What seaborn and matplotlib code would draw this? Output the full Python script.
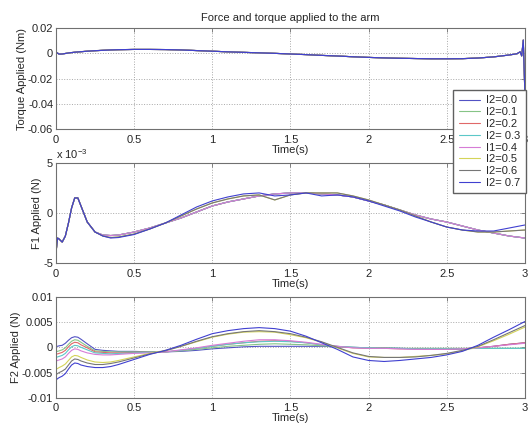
import numpy as np
import pandas as pd
import matplotlib
matplotlib.use('Agg')
import matplotlib.pyplot as plt
from matplotlib.ticker import FormatStrFormatter
import seaborn as sns

# time samples (s)
t_force = [0, 0.01, 0.02, 0.04, 0.06, 0.08, 0.10, 0.12, 0.14, 0.16, 0.2, 0.25, 0.3, 0.35, 0.4,
           0.5, 0.6, 0.7, 0.8, 0.9, 1.0, 1.1, 1.2, 1.3, 1.4, 1.5, 1.6, 1.7, 1.8, 1.9,
           2.0, 2.1, 2.2, 2.3, 2.4, 2.5, 2.6, 2.7, 2.8, 2.9, 3.0]
t_torque = t_force[:-1] + [2.95, 2.97, 2.98, 2.99, 3.0]

labels = ['I2=0.0', 'I2=0.1', 'I2=0.2', 'I2= 0.3', 'I1=0.4', 'I2=0.5', 'I2=0.6', 'I2= 0.7']
colors = ['#5252c4', '#86c486', '#e06868', '#5cc8c8', '#d67cd6', '#d4d458', '#767676', '#4040d0']

# torque (Nm), all runs lie on top of each other
torque = [0.001, 0.0002, -0.0006, -0.0005, -0.0001, 0.0003, 0.0006, 0.0009, 0.0011, 0.0013,
          0.0017, 0.0021, 0.0024, 0.0027, 0.0029, 0.0031, 0.0031, 0.003, 0.0027, 0.0022,
          0.0017, 0.0012, 0.0008, 0.0004, 0.0, -0.0005, -0.001, -0.0016, -0.0021, -0.0027,
          -0.0032, -0.0036, -0.0039, -0.0041, -0.0043, -0.0043, -0.0042, -0.0037, -0.0028, -0.0013,
          -0.0003, 0.0012, -0.002, 0.0105, -0.03]

# F1 (x 1e-3 N), three visibly distinct groups of runs
f1_low = [-4.0, -2.5, -2.6, -2.9, -2.3, -1.0, 0.5, 1.5, 1.5, 0.7, -0.9, -1.9, -2.2, -2.25, -2.2,
          -1.9, -1.5, -1.0, -0.5, 0.1, 0.7, 1.1, 1.4, 1.7, 1.9, 2.0, 2.0, 1.9, 1.8, 1.6,
          1.2, 0.8, 0.3, -0.2, -0.6, -0.9, -1.3, -1.7, -2.0, -2.3, -2.5]
f1_mid = [-4.0, -2.5, -2.6, -2.9, -2.3, -1.0, 0.5, 1.5, 1.5, 0.7, -0.9, -1.9, -2.3, -2.45, -2.4,
          -2.1, -1.6, -1.0, -0.3, 0.4, 1.0, 1.4, 1.7, 1.8, 1.3, 1.8, 2.0, 2.0, 2.0, 1.7,
          1.3, 0.8, 0.3, -0.3, -0.9, -1.4, -1.7, -1.9, -1.9, -1.8, -1.7]
f1_high = [-4.0, -2.5, -2.6, -2.9, -2.3, -1.0, 0.5, 1.5, 1.5, 0.7, -0.9, -1.9, -2.3, -2.5, -2.45,
           -2.15, -1.6, -1.0, -0.2, 0.6, 1.2, 1.6, 1.9, 2.0, 1.7, 1.8, 2.0, 1.7, 1.8, 1.6,
           1.2, 0.7, 0.2, -0.4, -0.9, -1.4, -1.7, -1.8, -1.8, -1.5, -1.2]
f1_runs = [f1_low, f1_low, f1_low, f1_low, f1_low, f1_mid, f1_mid, f1_high]

# F2 (N), one list per run
f2_00 = [0.0002, 0.0002, 0.0003, 0.0004, 0.0008, 0.0014, 0.0019, 0.0021, 0.002, 0.0016,
         0.0007, -0.0004, -0.0006, -0.0007, -0.0008, -0.0008, -0.0009, -0.0009, -0.0008, -0.0006,
         -0.0003, -0.0001, 0.0001, 0.0002, 0.0002, 0.0002, 0.0002, 0.0002, 0.0001, 0.0,
         -0.0001, -0.0001, -0.0002, -0.0003, -0.0003, -0.0004, -0.0003, -0.0001, 0.0002, 0.0006, 0.0009]
f2_01 = [-0.0008, -0.0008, -0.0007, -0.0005, -0.0001, 0.0006, 0.0012, 0.0015, 0.0014, 0.001,
         0.0002, -0.0007, -0.0008, -0.0009, -0.0009, -0.0009, -0.0009, -0.0009, -0.0007, -0.0004,
         -0.0001, 0.0002, 0.0004, 0.0006, 0.0007, 0.0006, 0.0005, 0.0003, 0.0001, 0.0,
         -0.0001, -0.0001, -0.0002, -0.0002, -0.0002, -0.0002, -0.0002, -0.0002, -0.0002, -0.0002, -0.0002]
f2_02 = [-0.0013, -0.0013, -0.0012, -0.001, -0.0006, 0.0001, 0.0007, 0.001, 0.0009, 0.0005,
         -0.0001, -0.0009, -0.001, -0.0011, -0.0011, -0.001, -0.001, -0.0009, -0.0006, -0.0002,
         0.0002, 0.0006, 0.0009, 0.0012, 0.0013, 0.0012, 0.0009, 0.0005, 0.0002, -0.0001,
         -0.0002, -0.0002, -0.0003, -0.0003, -0.0004, -0.0004, -0.0003, -0.0001, 0.0002, 0.0006, 0.0009]
f2_03 = [-0.002, -0.0019, -0.0018, -0.0016, -0.0012, -0.0005, 0.0001, 0.0004, 0.0003, 0.0,
         -0.0005, -0.0011, -0.0012, -0.0013, -0.0012, -0.0011, -0.001, -0.0009, -0.0006, -0.0002,
         0.0002, 0.0006, 0.0009, 0.0011, 0.0012, 0.0011, 0.0009, 0.0005, 0.0002, 0.0,
         -0.0001, -0.0002, -0.0002, -0.0003, -0.0003, -0.0003, -0.0003, -0.0002, -0.0002, -0.0002, -0.0002]
f2_04 = [-0.0027, -0.0026, -0.0025, -0.0023, -0.0019, -0.0012, -0.0006, -0.0003, -0.0004, -0.0007,
         -0.0011, -0.0014, -0.0015, -0.0015, -0.0014, -0.0012, -0.0011, -0.0009, -0.0005, -0.0001,
         0.0004, 0.0008, 0.0012, 0.0015, 0.0015, 0.0013, 0.001, 0.0006, 0.0002, -0.0001,
         -0.0002, -0.0002, -0.0003, -0.0004, -0.0004, -0.0004, -0.0003, -0.0001, 0.0002, 0.0005, 0.0008]
f2_05 = [-0.0043, -0.0042, -0.004, -0.0037, -0.0033, -0.0026, -0.0019, -0.0016, -0.0017, -0.002,
         -0.0025, -0.0029, -0.003, -0.0029, -0.0026, -0.0019, -0.0012, -0.0006, 0.0002, 0.0011,
         0.002, 0.0026, 0.003, 0.0031, 0.003, 0.0025, 0.0019, 0.001, -0.0001, -0.0012,
         -0.0019, -0.002, -0.002, -0.0018, -0.0016, -0.0013, -0.0007, 0.0001, 0.0013, 0.0026, 0.004]
f2_06 = [-0.0054, -0.0052, -0.005, -0.0047, -0.0043, -0.0035, -0.0027, -0.0023, -0.0024, -0.0027,
         -0.0031, -0.0034, -0.0034, -0.0032, -0.0029, -0.0021, -0.0013, -0.0007, 0.0002, 0.0012,
         0.0021, 0.0027, 0.0031, 0.0033, 0.0031, 0.0027, 0.002, 0.0011, 0.0, -0.0011,
         -0.0018, -0.002, -0.002, -0.0019, -0.0016, -0.0012, -0.0006, 0.0002, 0.0015, 0.0029, 0.0043]
f2_07 = [-0.0065, -0.0062, -0.006, -0.0057, -0.0052, -0.0043, -0.0035, -0.0031, -0.0032, -0.0035,
         -0.0038, -0.004, -0.004, -0.0038, -0.0034, -0.0024, -0.0014, -0.0006, 0.0004, 0.0016,
         0.0027, 0.0033, 0.0037, 0.0039, 0.0037, 0.0032, 0.0022, 0.0009, -0.0004, -0.0019,
         -0.0026, -0.0028, -0.0026, -0.0023, -0.002, -0.0015, -0.0008, 0.0004, 0.002, 0.0035, 0.0051]
f2_runs = [f2_00, f2_01, f2_02, f2_03, f2_04, f2_05, f2_06, f2_07]


def long_df(t, runs):
    parts = [pd.DataFrame({'time': t, 'value': r, 'run': lab}) for lab, r in zip(labels, runs)]
    return pd.concat(parts, ignore_index=True)


df_torque = long_df(t_torque, [torque] * 8)
df_f1 = long_df(t_force, f1_runs)
df_f2 = long_df(t_force, f2_runs)

sns.set_theme(style='whitegrid', rc={
    'grid.linestyle': ':', 'grid.color': '#a8a8a8', 'grid.linewidth': 0.7,
    'axes.edgecolor': '#707070', 'axes.linewidth': 0.8,
})
plt.rcParams['font.family'] = ['Liberation Sans', 'DejaVu Sans']
plt.rcParams['axes.unicode_minus'] = False
plt.rcParams['mathtext.fontset'] = 'custom'
plt.rcParams['mathtext.rm'] = 'Liberation Sans'

fs = 8
fig = plt.figure(figsize=(5.28, 4.32), dpi=100)
ax1 = fig.add_axes([0.106, 0.701, 0.888, 0.234])
ax2 = fig.add_axes([0.106, 0.391, 0.888, 0.232])
ax3 = fig.add_axes([0.106, 0.079, 0.888, 0.234])

panels = [
    (ax1, df_torque, 'Torque Applied (Nm)', (-0.06, 0.02), [-0.06, -0.04, -0.02, 0, 0.02]),
    (ax2, df_f1, 'F1 Applied (N)', (-5, 5), [-5, 0, 5]),
    (ax3, df_f2, 'F2 Applied (N)', (-0.01, 0.01), [-0.01, -0.005, 0, 0.005, 0.01]),
]
for ax, df, ylab, ylim, yt in panels:
    sns.lineplot(data=df, x='time', y='value', hue='run', hue_order=labels,
                 palette=colors, estimator=None, sort=False, linewidth=0.8,
                 legend=False, ax=ax)
    ax.set_xlim(0, 3)
    ax.set_ylim(*ylim)
    ax.set_xticks([0, 0.5, 1, 1.5, 2, 2.5, 3])
    ax.set_yticks(yt)
    ax.xaxis.set_major_formatter(FormatStrFormatter('%g'))
    ax.yaxis.set_major_formatter(FormatStrFormatter('%g'))
    ax.set_xlabel('Time(s)', fontsize=fs, labelpad=0)
    ax.set_ylabel(ylab, fontsize=fs, labelpad=1)
    ax.tick_params(direction='in', length=3, width=0.6, color='#707070',
                   top=True, right=True, labelsize=fs)
    ax.tick_params(axis='x', pad=4)
    ax.tick_params(axis='y', pad=2)
    for s in ax.spines.values():
        s.set_visible(True)

ax1.set_title('Force and torque applied to the arm', fontsize=fs, pad=5)
ax2.text(0, 1.02, r'x 10$^{-3}$', transform=ax2.transAxes, fontsize=fs,
         ha='left', va='bottom')

fig.legend(handles=ax1.lines[:8], labels=labels, loc='upper left',
           bbox_to_anchor=(0.858, 0.792), fontsize=fs, frameon=True,
           fancybox=False, edgecolor='#606060', framealpha=1,
           borderpad=0.5, labelspacing=0.16, handlelength=1.9,
           handletextpad=0.55, borderaxespad=0)

fig.savefig('out.png', dpi=100, facecolor='white')
